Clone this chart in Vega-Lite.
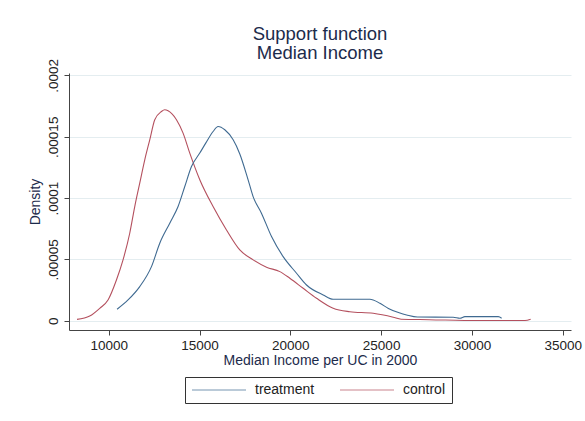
{
  "$schema": "https://vega.github.io/schema/vega-lite/v6.json",
  "width": 502,
  "height": 257,
  "autosize": {"type": "none"},
  "padding": {"left": 69, "top": 73, "right": 14, "bottom": 91},
  "background": "white",
  "config": {"view": {"stroke": null}, "font": "Liberation Sans"},
  "title": {
    "text": ["Support function", "Median Income"],
    "fontSize": 18.5,
    "lineHeight": 19,
    "font": "Liberation Sans",
    "fontWeight": "normal",
    "color": "#1c2b4b",
    "anchor": "middle",
    "offset": -4
  },
  "data": {
    "values": [
      {"g": "control", "income": 8253, "density": 0.0000011},
      {"g": "control", "income": 8953, "density": 0.0000038},
      {"g": "control", "income": 9504, "density": 0.0000101},
      {"g": "control", "income": 9961, "density": 0.0000169},
      {"g": "control", "income": 10424, "density": 0.0000332},
      {"g": "control", "income": 10788, "density": 0.0000496},
      {"g": "control", "income": 11157, "density": 0.0000713},
      {"g": "control", "income": 11433, "density": 0.0000931},
      {"g": "control", "income": 11708, "density": 0.0001122},
      {"g": "control", "income": 11984, "density": 0.0001312},
      {"g": "control", "income": 12259, "density": 0.0001475},
      {"g": "control", "income": 12535, "density": 0.0001639},
      {"g": "control", "income": 12904, "density": 0.0001706},
      {"g": "control", "income": 13080, "density": 0.000172},
      {"g": "control", "income": 13268, "density": 0.0001712},
      {"g": "control", "income": 13730, "density": 0.0001639},
      {"g": "control", "income": 14094, "density": 0.000153},
      {"g": "control", "income": 14463, "density": 0.0001367},
      {"g": "control", "income": 15014, "density": 0.000115},
      {"g": "control", "income": 15747, "density": 0.0000931},
      {"g": "control", "income": 16485, "density": 0.000074},
      {"g": "control", "income": 17218, "density": 0.0000577},
      {"g": "control", "income": 17951, "density": 0.0000496},
      {"g": "control", "income": 18690, "density": 0.0000436},
      {"g": "control", "income": 19423, "density": 0.00004},
      {"g": "control", "income": 19974, "density": 0.0000346},
      {"g": "control", "income": 20708, "density": 0.0000264},
      {"g": "control", "income": 21445, "density": 0.0000183},
      {"g": "control", "income": 22360, "density": 0.0000101},
      {"g": "control", "income": 23280, "density": 0.0000073},
      {"g": "control", "income": 24564, "density": 0.000006},
      {"g": "control", "income": 25666, "density": 0.0000028},
      {"g": "control", "income": 26100, "density": 0.0000012},
      {"g": "control", "income": 27639, "density": 0.0000008},
      {"g": "control", "income": 30350, "density": 0.0000001},
      {"g": "control", "income": 32923, "density": 0.0000001},
      {"g": "control", "income": 33236, "density": 0.0000011},
      {"g": "treatment", "income": 10459, "density": 0.0000093},
      {"g": "treatment", "income": 11063, "density": 0.0000169},
      {"g": "treatment", "income": 11708, "density": 0.0000278},
      {"g": "treatment", "income": 12353, "density": 0.0000441},
      {"g": "treatment", "income": 12810, "density": 0.0000632},
      {"g": "treatment", "income": 13361, "density": 0.0000795},
      {"g": "treatment", "income": 13819, "density": 0.0000931},
      {"g": "treatment", "income": 14188, "density": 0.0001094},
      {"g": "treatment", "income": 14557, "density": 0.0001257},
      {"g": "treatment", "income": 15014, "density": 0.0001367},
      {"g": "treatment", "income": 15350, "density": 0.000145},
      {"g": "treatment", "income": 15747, "density": 0.0001543},
      {"g": "treatment", "income": 16023, "density": 0.0001584},
      {"g": "treatment", "income": 16392, "density": 0.0001557},
      {"g": "treatment", "income": 16852, "density": 0.0001475},
      {"g": "treatment", "income": 17218, "density": 0.000136},
      {"g": "treatment", "income": 17676, "density": 0.0001149},
      {"g": "treatment", "income": 17951, "density": 0.0001012},
      {"g": "treatment", "income": 18410, "density": 0.0000877},
      {"g": "treatment", "income": 18965, "density": 0.0000686},
      {"g": "treatment", "income": 19605, "density": 0.0000522},
      {"g": "treatment", "income": 20343, "density": 0.0000387},
      {"g": "treatment", "income": 20893, "density": 0.0000291},
      {"g": "treatment", "income": 21810, "density": 0.000021},
      {"g": "treatment", "income": 22360, "density": 0.0000175},
      {"g": "treatment", "income": 24382, "density": 0.0000175},
      {"g": "treatment", "income": 24933, "density": 0.0000142},
      {"g": "treatment", "income": 25400, "density": 0.00001},
      {"g": "treatment", "income": 26035, "density": 0.0000062},
      {"g": "treatment", "income": 26404, "density": 0.0000047},
      {"g": "treatment", "income": 27000, "density": 0.000003},
      {"g": "treatment", "income": 28974, "density": 0.0000028},
      {"g": "treatment", "income": 29341, "density": 0.000002},
      {"g": "treatment", "income": 29617, "density": 0.0000033},
      {"g": "treatment", "income": 31452, "density": 0.0000033},
      {"g": "treatment", "income": 31637, "density": 0.000002}
    ]
  },
  "mark": {"type": "line", "strokeWidth": 1.1, "interpolate": "monotone", "clip": false},
  "encoding": {
    "x": {
      "field": "income",
      "type": "quantitative",
      "scale": {"domain": [7812, 35457], "nice": false, "zero": false},
      "axis": {
        "values": [10000, 15000, 20000, 25000, 30000, 35000],
        "format": "d",
        "title": "Median Income per UC in 2000",
        "grid": false,
        "domainColor": "#444",
        "tickColor": "#444",
        "tickSize": 5,
        "labelFontSize": 13.5,
        "labelColor": "#222",
        "labelPadding": 3,
        "labelFlush": false,
        "titleFontSize": 14,
        "titleFontWeight": "normal",
        "titleColor": "#1c2b4b",
        "titlePadding": 2
      }
    },
    "y": {
      "field": "density",
      "type": "quantitative",
      "scale": {"domain": [-0.0000076, 0.000202], "nice": false, "zero": false},
      "axis": {
        "values": [0, 0.00005, 0.0001, 0.00015, 0.0002],
        "labelExpr": "datum.value == 0 ? '0' : slice(format(datum.value, '.5~f'), 1)",
        "title": "Density",
        "grid": true,
        "gridColor": "#e4edf0",
        "domainColor": "#444",
        "tickColor": "#444",
        "tickSize": 5,
        "labelAngle": -90,
        "labelAlign": "center",
        "labelBaseline": "bottom",
        "labelFontSize": 13.5,
        "labelColor": "#222",
        "labelPadding": 4,
        "labelFlush": false,
        "titleFontSize": 14,
        "titleFontWeight": "normal",
        "titleColor": "#1c2b4b",
        "titlePadding": 4
      }
    },
    "color": {
      "field": "g",
      "type": "nominal",
      "scale": {"domain": ["treatment", "control"], "range": ["#3f6a91", "#b4505e"]},
      "legend": {
        "orient": "none",
        "legendX": 116,
        "legendY": 304,
        "direction": "horizontal",
        "title": null,
        "strokeColor": "#333",
        "fillColor": "white",
        "padding": 6,
        "symbolType": "M-6,0L48,0",
        "symbolSize": 4,
        "symbolStrokeWidth": 1,
        "symbolOpacity": 0.7,
        "labelFontSize": 14,
        "labelColor": "#222",
        "labelOffset": 50,
        "columnPadding": 23
      }
    }
  }
}
